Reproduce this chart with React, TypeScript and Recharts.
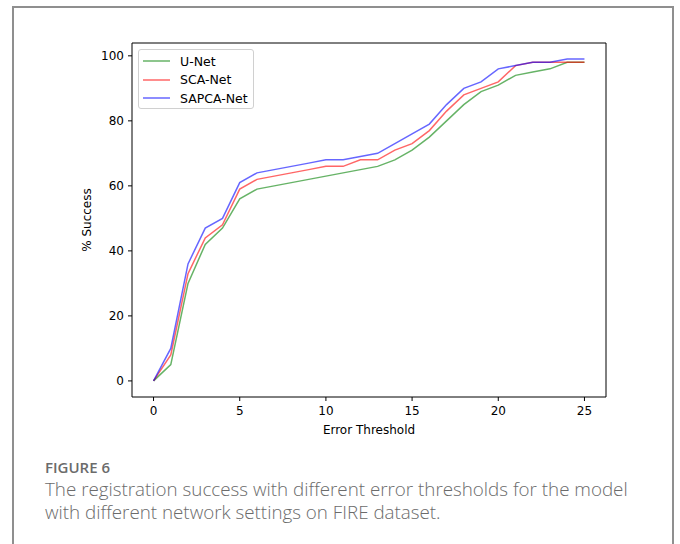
import { Line, LineChart, ReferenceArea, XAxis, YAxis } from 'recharts'

// Error thresholds (px) on the x axis
const thresholds = [0, 1, 2, 3, 4, 5, 6, 7, 8, 9, 10, 11, 12, 13, 14, 15, 16, 17, 18, 19, 20, 21, 22, 23, 24, 25]

// % success per threshold
const uNet = [0, 5, 30, 42, 47, 56, 59, 60, 61, 62, 63, 64, 65, 66, 68, 71, 75, 80, 85, 89, 91, 94, 95, 96, 98, 98]
const scaNet = [0, 8, 33, 44, 48, 59, 62, 63, 64, 65, 66, 66, 68, 68, 71, 73, 77, 83, 88, 90, 92, 97, 98, 98, 98, 98]
const sapcaNet = [0, 10, 36, 47, 50, 61, 64, 65, 66, 67, 68, 68, 69, 70, 73, 76, 79, 85, 90, 92, 96, 97, 98, 98, 99, 99]

const xTicks = [0, 5, 10, 15, 20, 25]
const yTicks = [0, 20, 40, 60, 80, 100]

const series = [
  { key: 'uNet', name: 'U-Net', color: '#008000' },
  { key: 'scaNet', name: 'SCA-Net', color: '#ff0000' },
  { key: 'sapcaNet', name: 'SAPCA-Net', color: '#0000ff' },
]

const captionLines = [
  'The registration success with different error thresholds for the model',
  'with different network settings on FIRE dataset.',
]

const data = thresholds.map((t, i) => ({ t, uNet: uNet[i], scaNet: scaNet[i], sapcaNet: sapcaNet[i] }))

// matplotlib-style 5% margins
const X_DOMAIN: [number, number] = [-1.25, 26.25]
const Y_DOMAIN: [number, number] = [-4.95, 103.95]

const mpl = '"DejaVu Sans", sans-serif'
const tick = { fill: '#000', fontSize: 12, fontFamily: mpl }

// legend drawn outside the chart so it doesn't eat into the plot offsets
function LegendBox() {
  return (
    <div
      style={{
        position: 'absolute',
        left: 138,
        top: 49,
        boxSizing: 'border-box',
        width: 116,
        height: 60,
        border: '1px solid #d0d0d0',
        borderRadius: 3,
        background: '#fff',
        padding: '2px 0 0 4px',
        fontFamily: mpl,
        fontSize: 12.5,
        color: '#000',
        whiteSpace: 'nowrap',
      }}
    >
      {series.map((s) => (
        <div key={s.key} style={{ display: 'flex', alignItems: 'center', height: 18.5 }}>
          <svg width={27} height={4} style={{ marginRight: 10 }}>
            <line x1={0} y1={2} x2={27} y2={2} stroke={s.color} strokeOpacity={0.6} strokeWidth={1.5} />
          </svg>
          <span>{s.name}</span>
        </div>
      ))}
    </div>
  )
}

export default function App() {
  return (
    <div style={{ position: 'absolute', left: 0, top: 0, width: 680, height: 544, overflow: 'hidden', background: '#fff' }}>
      <div
        style={{
          position: 'absolute',
          left: 12,
          top: 6,
          width: 658,
          height: 600,
          border: '2px solid #8f8f8f',
        }}
      />
      <div style={{ position: 'absolute', left: 0, top: 0 }}>
        <LineChart width={680} height={480} data={data} margin={{ top: 43, right: 74, left: 42, bottom: 17 }}>
          <XAxis
            dataKey="t"
            type="number"
            domain={X_DOMAIN}
            ticks={xTicks}
            allowDataOverflow
            tick={tick}
            tickSize={4}
            tickMargin={5}
            tickLine={{ stroke: '#000' }}
            axisLine={false}
            height={66}
            label={{ value: 'Error Threshold', position: 'center', fill: '#000', fontSize: 12, fontFamily: mpl }}
          />
          <YAxis
            type="number"
            domain={Y_DOMAIN}
            ticks={yTicks}
            allowDataOverflow
            tick={tick}
            tickSize={4}
            tickMargin={4}
            tickLine={{ stroke: '#000' }}
            axisLine={false}
            width={90}
            label={{ value: '% Success', angle: -90, position: 'center', fill: '#000', fontSize: 12, fontFamily: mpl }}
          />
          <ReferenceArea
            x1={X_DOMAIN[0]}
            x2={X_DOMAIN[1]}
            y1={Y_DOMAIN[0]}
            y2={Y_DOMAIN[1]}
            fill="none"
            stroke="#000"
            strokeWidth={1}
            ifOverflow="visible"
          />
          {series.map((s) => (
            <Line
              key={s.key}
              type="linear"
              dataKey={s.key}
              name={s.name}
              stroke={s.color}
              strokeOpacity={0.6}
              strokeWidth={1.5}
              dot={false}
              isAnimationActive={false}
            />
          ))}
        </LineChart>
      </div>
      <LegendBox />
      <div
        style={{
          position: 'absolute',
          left: 45,
          top: 459,
          fontFamily: '"Open Sans", sans-serif',
          fontWeight: 600,
          fontSize: 15,
          lineHeight: '16px',
          color: '#6b6b6b',
        }}
      >
        FIGURE 6
      </div>
      {captionLines.map((line, i) => (
        <div
          key={i}
          style={{
            position: 'absolute',
            left: 45,
            top: 479 + i * 23,
            fontFamily: '"Open Sans", sans-serif',
            fontWeight: 300,
            fontSize: 18.8,
            lineHeight: '21px',
            color: '#6b6b6b',
            whiteSpace: 'nowrap',
          }}
        >
          {line}
        </div>
      ))}
    </div>
  )
}
